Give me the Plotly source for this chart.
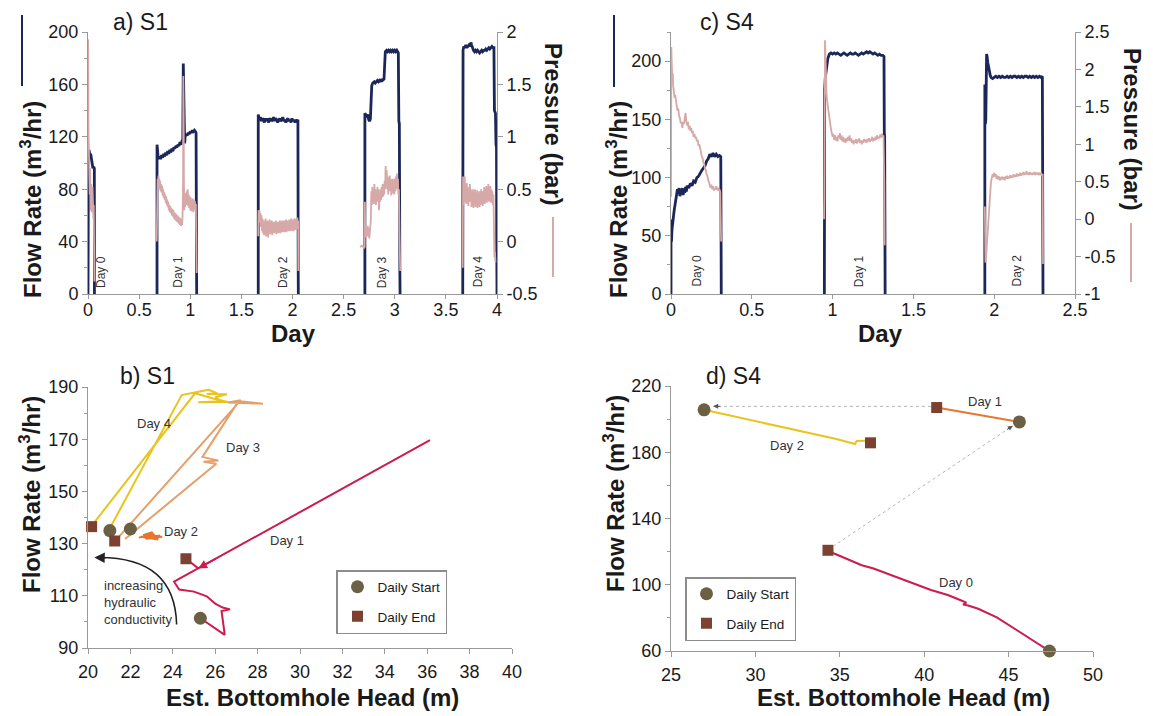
import plotly.graph_objects as go

# ---------------- DATA ----------------
# Panel a) S1 : flow rate (m3/hr) vs day, per pumping day (t, value)
A_FLOW_D0 = [(0.0,0),(0.0,40),(0.004,104),(0.01,110),(0.018,106),(0.026,107),(0.034,103),(0.042,99),(0.048,96),(0.056,97),(0.062,96),(0.063,0)]
A_FLOW_D1 = [(0.675,0),(0.675,114),(0.68,110),(0.685,105),(0.69,103),(0.70,105),(0.71,103),(0.72,106),(0.73,104),(0.74,107),(0.75,105),(0.76,108),(0.77,106),(0.78,109),(0.79,107),(0.80,110),(0.81,108),(0.82,111),(0.83,109),(0.84,112),(0.85,111),(0.86,113),(0.87,112),(0.88,114),(0.89,113),(0.90,116),(0.91,114),(0.92,117),(0.927,118),(0.932,176),(0.937,150),(0.94,117),(0.945,115),(0.95,120),(0.96,122),(0.97,121),(0.98,123),(0.99,122),(1.00,124),(1.01,123),(1.02,125),(1.03,124),(1.04,125),(1.05,124),(1.057,123),(1.062,15),(1.063,0)]
A_FLOW_D2 = [(1.665,0),(1.665,137),(1.668,136),(1.675,133),(1.685,135),(1.695,132),(1.705,134),(1.715,133),(1.725,131),(1.735,134),(1.745,132),(1.755,134),(1.765,131),(1.775,133),(1.785,134),(1.795,132),(1.805,133),(1.815,135),(1.825,132),(1.835,134),(1.845,133),(1.855,131),(1.865,133),(1.875,134),(1.885,132),(1.895,133),(1.905,135),(1.915,132),(1.925,133),(1.935,131),(1.945,133),(1.955,134),(1.965,132),(1.975,133),(1.985,131),(1.995,134),(2.005,132),(2.015,133),(2.025,131),(2.035,133),(2.045,132),(2.053,133),(2.056,15),(2.057,0)]
A_FLOW_D3 = [(2.708,0),(2.708,138),(2.715,137),(2.725,136),(2.735,137),(2.745,133),(2.755,132),(2.762,134),(2.768,150),(2.775,159),(2.785,161),(2.80,162),(2.81,161),(2.82,162),(2.83,163),(2.84,162),(2.85,163),(2.86,162),(2.87,164),(2.88,163),(2.895,164),(2.902,176),(2.908,185),(2.92,186),(2.93,185),(2.94,186),(2.95,185),(2.96,186),(2.97,185),(2.98,186),(2.99,185),(3.00,186),(3.01,185),(3.02,186),(3.03,185),(3.035,184),(3.04,132),(3.045,130),(3.05,18),(3.052,0)]
A_FLOW_D4 = [(3.665,0),(3.665,135),(3.668,186),(3.675,189),(3.685,188),(3.695,190),(3.705,188),(3.715,189),(3.725,190),(3.735,189),(3.745,192),(3.752,190),(3.76,187),(3.77,186),(3.78,185),(3.79,186),(3.80,185),(3.81,186),(3.82,185),(3.83,184),(3.84,185),(3.85,186),(3.86,185),(3.87,186),(3.88,186),(3.89,187),(3.90,186),(3.91,187),(3.92,188),(3.93,187),(3.94,188),(3.95,189),(3.96,188),(3.97,188),(3.975,140),(3.985,138),(3.99,114),(3.995,112),(3.998,30),(4.0,0)]

# Panel a) S1 : pressure (bar)
A_PRES_D0 = [(0.0,0.9),(0.001,1.93),(0.003,1.4),(0.005,1.0),(0.008,0.92),(0.011,0.6),(0.014,0.82),(0.017,0.45),(0.02,0.7),(0.023,0.38),(0.026,0.6),(0.029,0.3),(0.032,0.55),(0.035,0.28),(0.038,0.5),(0.041,0.35),(0.044,0.52),(0.047,0.3),(0.05,0.45),(0.053,0.22),(0.056,0.35),(0.059,0.0),(0.062,-0.3),(0.063,-0.38)]
A_PRES_D1 = [(0.672,0.0),(0.675,0.55),(0.678,0.48),(0.681,0.6),(0.685,0.5),(0.689,0.63),(0.693,0.52),(0.697,0.6),(0.70,0.5),(0.705,0.58),(0.71,0.48),(0.715,0.55),(0.72,0.47),(0.725,0.53),(0.73,0.44),(0.735,0.5),(0.74,0.42),(0.745,0.47),(0.75,0.4),(0.755,0.45),(0.76,0.37),(0.765,0.43),(0.77,0.35),(0.775,0.4),(0.78,0.33),(0.785,0.38),(0.79,0.3),(0.795,0.35),(0.80,0.28),(0.805,0.34),(0.81,0.27),(0.815,0.32),(0.82,0.25),(0.825,0.31),(0.83,0.24),(0.835,0.3),(0.84,0.22),(0.845,0.28),(0.85,0.21),(0.855,0.27),(0.86,0.2),(0.865,0.26),(0.87,0.19),(0.875,0.25),(0.88,0.18),(0.885,0.24),(0.89,0.17),(0.895,0.23),(0.90,0.16),(0.905,0.22),(0.91,0.15),(0.915,0.21),(0.92,0.16),(0.925,0.25),(0.93,0.6),(0.932,1.58),(0.935,1.3),(0.938,0.6),(0.941,0.3),(0.945,0.4),(0.95,0.33),(0.955,0.46),(0.96,0.35),(0.965,0.48),(0.97,0.36),(0.975,0.5),(0.98,0.34),(0.985,0.45),(0.99,0.32),(0.995,0.43),(1.0,0.3),(1.005,0.42),(1.01,0.29),(1.015,0.4),(1.02,0.3),(1.025,0.41),(1.03,0.28),(1.035,0.4),(1.04,0.3),(1.045,0.39),(1.05,0.31),(1.055,0.36),(1.058,0.1),(1.061,-0.25),(1.063,-0.3)]
A_PRES_D2 = [(1.665,0.05),(1.667,0.3),(1.672,0.22),(1.677,0.3),(1.682,0.18),(1.687,0.27),(1.692,0.14),(1.697,0.25),(1.702,0.1),(1.707,0.22),(1.712,0.08),(1.717,0.2),(1.722,0.06),(1.727,0.18),(1.732,0.1),(1.737,0.22),(1.742,0.05),(1.747,0.19),(1.752,0.08),(1.757,0.2),(1.762,0.04),(1.767,0.17),(1.772,0.09),(1.777,0.21),(1.782,0.07),(1.787,0.18),(1.792,0.1),(1.797,0.2),(1.802,0.06),(1.807,0.18),(1.812,0.09),(1.817,0.19),(1.822,0.08),(1.827,0.17),(1.832,0.1),(1.837,0.2),(1.842,0.07),(1.847,0.18),(1.852,0.1),(1.857,0.19),(1.862,0.08),(1.867,0.18),(1.872,0.11),(1.877,0.2),(1.882,0.08),(1.887,0.19),(1.892,0.1),(1.897,0.2),(1.902,0.09),(1.907,0.18),(1.912,0.1),(1.917,0.2),(1.922,0.09),(1.927,0.19),(1.932,0.1),(1.937,0.21),(1.942,0.09),(1.947,0.2),(1.952,0.11),(1.957,0.19),(1.962,0.1),(1.967,0.21),(1.972,0.1),(1.977,0.2),(1.982,0.11),(1.987,0.22),(1.992,0.1),(1.997,0.21),(2.002,0.11),(2.007,0.2),(2.012,0.1),(2.017,0.22),(2.022,0.12),(2.027,0.21),(2.032,0.11),(2.037,0.22),(2.042,0.12),(2.047,0.23),(2.052,0.15),(2.055,0.2),(2.057,-0.28)]
A_PRES_D3 = [(2.66,-0.05),(2.68,-0.04),(2.70,-0.06),(2.706,-0.05),(2.708,0.38),(2.711,0.05),(2.716,0.14),(2.721,0.04),(2.726,0.12),(2.731,0.06),(2.736,0.15),(2.741,0.05),(2.746,0.13),(2.751,0.03),(2.756,0.12),(2.761,0.08),(2.766,0.2),(2.771,0.48),(2.776,0.35),(2.781,0.52),(2.786,0.38),(2.791,0.5),(2.796,0.36),(2.801,0.55),(2.806,0.4),(2.811,0.5),(2.816,0.35),(2.821,0.48),(2.826,0.38),(2.831,0.52),(2.836,0.4),(2.841,0.5),(2.846,0.3),(2.851,0.45),(2.856,0.38),(2.861,0.5),(2.866,0.4),(2.871,0.52),(2.876,0.42),(2.881,0.55),(2.886,0.43),(2.891,0.52),(2.896,0.45),(2.901,0.58),(2.906,0.5),(2.911,0.72),(2.916,0.55),(2.921,0.68),(2.926,0.5),(2.931,0.62),(2.936,0.45),(2.941,0.6),(2.946,0.48),(2.951,0.63),(2.956,0.5),(2.961,0.6),(2.966,0.44),(2.971,0.58),(2.976,0.47),(2.981,0.6),(2.986,0.46),(2.991,0.57),(2.996,0.45),(3.001,0.6),(3.006,0.48),(3.011,0.62),(3.016,0.5),(3.021,0.65),(3.026,0.5),(3.031,0.6),(3.036,0.45),(3.041,0.5),(3.046,0.1),(3.05,-0.2),(3.053,-0.28)]
A_PRES_D4 = [(3.665,-0.25),(3.666,0.2),(3.668,0.62),(3.672,0.35),(3.676,0.6),(3.68,0.4),(3.685,0.62),(3.69,0.38),(3.695,0.55),(3.70,0.36),(3.705,0.56),(3.71,0.4),(3.715,0.52),(3.72,0.34),(3.725,0.5),(3.73,0.38),(3.735,0.55),(3.74,0.4),(3.745,0.5),(3.75,0.33),(3.755,0.48),(3.76,0.35),(3.765,0.5),(3.77,0.32),(3.775,0.47),(3.78,0.36),(3.785,0.5),(3.79,0.33),(3.795,0.46),(3.80,0.35),(3.805,0.49),(3.81,0.32),(3.815,0.45),(3.82,0.34),(3.825,0.48),(3.83,0.33),(3.835,0.46),(3.84,0.35),(3.845,0.5),(3.85,0.36),(3.855,0.48),(3.86,0.34),(3.865,0.47),(3.87,0.38),(3.875,0.52),(3.88,0.36),(3.885,0.5),(3.89,0.38),(3.895,0.53),(3.90,0.37),(3.905,0.5),(3.91,0.4),(3.915,0.55),(3.92,0.38),(3.925,0.5),(3.93,0.4),(3.935,0.53),(3.94,0.37),(3.945,0.5),(3.95,0.38),(3.955,0.48),(3.96,0.35),(3.965,0.45),(3.97,0.2),(3.975,-0.15),(3.98,-0.1),(3.985,-0.2)]

# Panel c) S4 : flow rate
C_FLOW_D0 = [(0.0,0),(0.0,64),(0.003,45),(0.006,55),(0.01,62),(0.014,66),(0.018,70),(0.022,74),(0.026,78),(0.03,83),(0.035,87),(0.04,90),(0.045,86),(0.05,91),(0.055,84),(0.06,89),(0.065,86),(0.07,91),(0.075,85),(0.08,90),(0.085,87),(0.09,92),(0.095,88),(0.10,93),(0.11,91),(0.12,95),(0.13,93),(0.14,97),(0.15,96),(0.16,100),(0.17,101),(0.18,104),(0.19,106),(0.20,108),(0.21,110),(0.22,114),(0.23,116),(0.24,120),(0.25,118),(0.26,121),(0.27,118),(0.28,120),(0.29,118),(0.30,119),(0.308,118),(0.31,42),(0.311,0)]
C_FLOW_D1 = [(0.949,0),(0.949,58),(0.951,176),(0.955,186),(0.96,193),(0.965,198),(0.97,202),(0.975,204),(0.98,206),(0.99,207),(1.0,206),(1.01,207),(1.02,206),(1.03,207),(1.04,206),(1.05,205),(1.06,206),(1.07,207),(1.08,206),(1.09,205),(1.10,206),(1.11,207),(1.12,206),(1.13,206),(1.14,207),(1.15,206),(1.16,205),(1.17,206),(1.18,207),(1.19,206),(1.20,207),(1.21,208),(1.22,207),(1.23,208),(1.24,207),(1.25,206),(1.26,207),(1.27,206),(1.28,205),(1.29,206),(1.30,205),(1.31,205),(1.318,204),(1.32,138),(1.322,136),(1.324,52),(1.325,0)]
C_FLOW_D2 = [(1.942,0),(1.942,180),(1.945,146),(1.948,150),(1.95,162),(1.953,206),(1.956,204),(1.96,199),(1.965,194),(1.97,190),(1.975,188),(1.98,186),(1.99,185),(2.0,186),(2.01,187),(2.02,186),(2.03,187),(2.04,186),(2.05,187),(2.06,186),(2.07,186),(2.08,187),(2.09,186),(2.10,187),(2.11,186),(2.12,187),(2.13,187),(2.14,186),(2.15,187),(2.16,186),(2.17,187),(2.18,186),(2.19,187),(2.20,187),(2.21,186),(2.22,187),(2.23,186),(2.24,187),(2.25,186),(2.26,187),(2.27,186),(2.28,187),(2.29,186),(2.298,187),(2.301,25),(2.302,0)]

# Panel c) S4 : pressure
C_PRES_D0 = [(0.0,0.3),(0.002,2.3),(0.005,2.05),(0.008,1.9),(0.011,1.95),(0.014,1.78),(0.018,1.72),(0.022,1.62),(0.026,1.66),(0.03,1.55),(0.035,1.52),(0.04,1.45),(0.045,1.48),(0.05,1.38),(0.055,1.35),(0.06,1.28),(0.065,1.3),(0.07,1.22),(0.075,1.3),(0.08,1.27),(0.085,1.38),(0.09,1.42),(0.095,1.3),(0.10,1.25),(0.105,1.3),(0.11,1.2),(0.115,1.25),(0.12,1.18),(0.125,1.22),(0.13,1.15),(0.135,1.18),(0.14,1.1),(0.145,1.14),(0.15,1.08),(0.155,1.1),(0.16,1.04),(0.165,1.06),(0.17,0.98),(0.175,1.0),(0.18,0.92),(0.185,0.9),(0.19,0.84),(0.195,0.82),(0.20,0.76),(0.205,0.74),(0.21,0.68),(0.215,0.66),(0.22,0.6),(0.225,0.58),(0.23,0.52),(0.235,0.5),(0.24,0.45),(0.245,0.42),(0.25,0.46),(0.255,0.4),(0.26,0.44),(0.265,0.38),(0.27,0.42),(0.275,0.4),(0.28,0.44),(0.285,0.39),(0.29,0.42),(0.295,0.38),(0.30,0.4),(0.305,0.36),(0.31,-0.3)]
C_PRES_D1 = [(0.947,0.0),(0.949,0.3),(0.953,2.39),(0.956,2.0),(0.959,1.85),(0.962,1.7),(0.966,1.58),(0.97,1.5),(0.975,1.42),(0.98,1.35),(0.985,1.28),(0.99,1.2),(0.995,1.15),(1.0,1.1),(1.005,1.14),(1.01,1.06),(1.015,1.12),(1.02,1.05),(1.025,1.1),(1.03,1.04),(1.035,1.12),(1.04,1.08),(1.045,1.15),(1.05,1.06),(1.055,1.12),(1.06,1.04),(1.065,1.1),(1.07,1.03),(1.075,1.08),(1.08,1.02),(1.085,1.08),(1.09,1.04),(1.095,1.1),(1.10,1.05),(1.105,1.12),(1.11,1.04),(1.115,1.08),(1.12,1.02),(1.125,1.06),(1.13,1.0),(1.135,1.05),(1.14,1.02),(1.145,1.07),(1.15,1.01),(1.155,1.06),(1.16,1.03),(1.165,1.08),(1.17,1.02),(1.175,1.05),(1.18,1.0),(1.185,1.05),(1.19,1.02),(1.195,1.07),(1.20,1.03),(1.205,1.06),(1.21,1.02),(1.215,1.07),(1.22,1.04),(1.225,1.08),(1.23,1.03),(1.235,1.07),(1.24,1.05),(1.245,1.1),(1.25,1.04),(1.255,1.08),(1.26,1.05),(1.265,1.1),(1.27,1.06),(1.275,1.12),(1.28,1.07),(1.285,1.1),(1.29,1.08),(1.295,1.13),(1.30,1.09),(1.305,1.14),(1.31,1.1),(1.315,1.12),(1.32,0.5),(1.322,-0.35)]
C_PRES_D2 = [(1.942,0.17),(1.944,-0.45),(1.946,-0.58),(1.95,-0.5),(1.955,-0.32),(1.96,-0.08),(1.965,0.12),(1.97,0.28),(1.975,0.4),(1.98,0.5),(1.985,0.55),(1.99,0.6),(1.995,0.56),(2.0,0.62),(2.005,0.57),(2.01,0.6),(2.015,0.54),(2.02,0.58),(2.025,0.53),(2.03,0.57),(2.035,0.52),(2.04,0.56),(2.045,0.53),(2.05,0.57),(2.055,0.53),(2.06,0.56),(2.065,0.52),(2.07,0.57),(2.075,0.54),(2.08,0.58),(2.085,0.54),(2.09,0.57),(2.095,0.55),(2.10,0.59),(2.105,0.55),(2.11,0.58),(2.115,0.56),(2.12,0.6),(2.125,0.56),(2.13,0.59),(2.135,0.57),(2.14,0.61),(2.145,0.57),(2.15,0.6),(2.155,0.58),(2.16,0.62),(2.165,0.58),(2.17,0.61),(2.175,0.59),(2.18,0.63),(2.185,0.59),(2.19,0.62),(2.195,0.6),(2.20,0.64),(2.205,0.6),(2.21,0.62),(2.215,0.59),(2.22,0.63),(2.225,0.6),(2.23,0.62),(2.235,0.59),(2.24,0.62),(2.245,0.6),(2.25,0.63),(2.255,0.59),(2.26,0.62),(2.265,0.6),(2.27,0.62),(2.275,0.59),(2.28,0.61),(2.285,0.6),(2.29,0.62),(2.295,0.59),(2.30,0.6),(2.302,-0.6)]

# Panel b) S1 : flow rate vs est. bottomhole head (head m, flow m3/hr)
B_DAY1 = [(25.3,101.4),(26.45,95.0),(26.3,104.2),(26.7,104.8),(26.35,105.5),(26.0,107.0),(25.6,109.8),(25.0,111.6),(24.3,112.4),(24.06,115.4),(36.13,169.6),(25.2,120.5),(24.62,124.2)]
B_DAY2 = [(22.4,132.3),(23.1,133.8),(22.7,132.0),(23.5,132.6),(22.6,133.2),(23.0,134.3),(23.3,131.6),(22.5,132.6),(23.4,133.0),(22.8,131.8),(23.2,132.9)]
B_DAY3 = [(21.75,131.8),(26.05,160.6),(25.45,161.4),(26.15,161.8),(25.4,163.2),(27.1,184.6),(28.25,183.6),(26.6,184.1),(27.2,184.9),(21.35,131.6)]
B_DAY4 = [(20.96,134.8),(24.42,186.9),(25.2,188.2),(25.7,188.9),(26.1,187.5),(25.6,187.3),(26.55,187.2),(26.0,186.1),(26.3,184.5),(25.2,184.2),(26.6,184.3),(25.9,185.6),(25.05,187.6),(20.17,136.8)]
B_START = [(25.3,101.4),(21.03,135.0),(22.0,135.6)]
B_END = [(24.62,124.2),(21.26,131.0),(20.17,136.5)]

# Panel d) S4
D_DAY0 = [(47.42,60.0),(46.4,66.5),(45.4,73.3),(44.3,80.3),(43.2,85.5),(42.6,87.5),(42.3,88.0),(42.5,89.2),(42.2,90.5),(41.4,93.8),(40.4,96.8),(39.2,101.3),(38.0,106.0),(37.0,109.8),(36.3,111.8),(35.6,114.8),(35.1,116.6),(35.3,116.2),(34.7,118.7),(34.3,120.8)]
D_DAY1 = [(45.64,198.3),(44.2,200.8),(42.6,203.6),(41.5,205.5),(41.0,206.5),(41.4,206.0),(40.74,207.0)]
D_DAY2 = [(26.96,205.6),(30.5,197.8),(33.8,190.3),(34.8,188.0),(35.9,185.0),(36.0,186.8),(36.6,187.0)]
D_START = [(26.96,205.6),(45.64,198.3),(47.42,60.0)]
D_END = [(34.3,120.8),(40.74,207.0),(36.82,185.7)]
D_LINKS = [((34.6,123.2),(45.25,196.0)), ((40.4,207.7),(27.5,207.7))]

# Labels
A_DAY_LABELS = [("Day 0",0.12),("Day 1",0.88),("Day 2",1.9),("Day 3",2.87),("Day 4",3.81)]
C_DAY_LABELS = [("Day 0",0.16),("Day 1",1.16),("Day 2",2.14)]
B_LABELS = [("Day 4",23.1,176),("Day 3",27.3,167),("Day 2",24.4,134.5),("Day 1",29.4,131)]
D_LABELS = [("Day 1",43.6,210.8),("Day 2",31.9,183.8),("Day 0",41.9,101.5)]
A_PRES_TICKS = [-0.5,0,0.5,1,1.5,2]
A_PRES_TEXT = ["-0.5","0","0.5","1","1.5","2"]
C_PRES_TICKS = [-1,-0.5,0,0.5,1,1.5,2,2.5]
C_PRES_TEXT = ["-1","-0.5","0","0.5","1","1.5","2","2.5"]

# ---------------- STYLE ----------------
NAVY = "#1c2759"
PINK = "#d6a8a7"
CRIMSON = "#cc1c4f"
ORANGE = "#e8752d"
LIGHTOR = "#e3a06a"
YELLOW = "#e9c420"
START_C = "#6b5f44"
END_C = "#7d4131"
FONT = "Liberation Sans"
TXT = "#1a1a1a"
AX = "#9a9a9a"
OFF = 8                      # page body margin of the html page
W, H = 1153 - OFF, 716 - OFF

def px(x): return (x - OFF) / W
def py(y): return 1 - (y - OFF) / H

def join(segs):
    X, Y = [], []
    for s in segs:
        X += [p[0] for p in s] + [None]
        Y += [p[1] for p in s] + [None]
    return X, Y

fig = go.Figure()

def line(segs, xa, ya, color, width):
    X, Y = join(segs)
    fig.add_trace(go.Scatter(x=X, y=Y, xaxis=xa, yaxis=ya, mode="lines",
                             line=dict(color=color, width=width), showlegend=False,
                             hoverinfo="skip"))

# top panels
line([A_FLOW_D0, A_FLOW_D1, A_FLOW_D2, A_FLOW_D3, A_FLOW_D4], "x", "y", NAVY, 2.8)
line([A_PRES_D0, A_PRES_D1, A_PRES_D2, A_PRES_D3, A_PRES_D4], "x", "y2", PINK, 1.8)
line([C_FLOW_D0, C_FLOW_D1, C_FLOW_D2], "x2", "y3", NAVY, 2.8)
line([C_PRES_D0, C_PRES_D1, C_PRES_D2], "x2", "y4", PINK, 1.8)

# panel b
line([B_DAY1], "x3", "y5", CRIMSON, 2.0)
line([B_DAY2], "x3", "y5", ORANGE, 2.0)
line([B_DAY3], "x3", "y5", LIGHTOR, 2.0)
line([B_DAY4], "x3", "y5", YELLOW, 2.0)
# panel d
line([D_DAY0], "x4", "y6", CRIMSON, 2.0)
line([D_DAY1], "x4", "y6", ORANGE, 2.0)
line([D_DAY2], "x4", "y6", YELLOW, 2.0)

def markers(pts, xa, ya, sym, color, size, name, legend, group):
    fig.add_trace(go.Scatter(x=[p[0] for p in pts], y=[p[1] for p in pts], xaxis=xa, yaxis=ya,
                             mode="markers", name=name, legend=legend, legendgroup=group,
                             marker=dict(symbol=sym, color=color, size=size),
                             cliponaxis=False, hoverinfo="skip"))

markers(B_START, "x3", "y5", "circle", START_C, 13, "Daily Start", "legend", "s")
markers(B_END, "x3", "y5", "square", END_C, 11, "Daily End", "legend", "e")
markers(D_START, "x4", "y6", "circle", START_C, 13, "Daily Start", "legend2", "s")
markers(D_END, "x4", "y6", "square", END_C, 11, "Daily End", "legend2", "e")

tickfont = dict(family=FONT, size=18, color=TXT)
def axis(**kw):
    d = dict(showgrid=False, zeroline=False, showline=True, linecolor=AX, linewidth=1,
             ticks="outside", ticklen=5, tickcolor=AX, tickfont=tickfont, fixedrange=True,
             automargin=False)
    d.update(kw)
    return d

minor = lambda dt: dict(ticks="outside", ticklen=3, tickcolor=AX, dtick=dt, showgrid=False)

ya_dom = [py(294), py(32)]
layout = dict(
    width=W, height=H, margin=dict(l=0, r=0, t=0, b=0, pad=0, autoexpand=False),
    paper_bgcolor="white", plot_bgcolor="white",
    font=dict(family=FONT, color=TXT),
    xaxis=axis(domain=[px(88), px(497)], anchor="y", range=[0, 4], tick0=0, dtick=0.5,
               ticklen=4, ticklabelstandoff=-5),
    yaxis=axis(domain=ya_dom, anchor="x", range=[0, 200], tick0=0, dtick=40, minor=minor(20)),
    yaxis2=axis(overlaying="y", side="right", anchor="x", range=[-0.5, 2],
                tickvals=A_PRES_TICKS, ticktext=A_PRES_TEXT),
    xaxis2=axis(domain=[px(671), px(1075)], anchor="y3", range=[0, 2.5], tick0=0, dtick=0.5,
                ticklen=4, ticklabelstandoff=-5),
    yaxis3=axis(domain=ya_dom, anchor="x2", range=[0, 225], tick0=0, dtick=50, minor=minor(25)),
    yaxis4=axis(overlaying="y3", side="right", anchor="x2", range=[-1, 2.5],
                tickvals=C_PRES_TICKS, ticktext=C_PRES_TEXT),
    xaxis3=axis(domain=[px(88), px(512)], anchor="y5", range=[20, 40], tick0=20, dtick=2,
                ticklabelstandoff=2),
    yaxis5=axis(domain=[py(648), py(387)], anchor="x3", range=[90, 190], tick0=90, dtick=20, minor=minor(10)),
    xaxis4=axis(domain=[px(671), px(1093)], anchor="y6", range=[25, 50], tick0=25, dtick=5,
                ticklabelstandoff=2),
    yaxis6=axis(domain=[py(651), py(386)], anchor="x4", range=[60, 220], tick0=60, dtick=40, minor=minor(20)),
    legend=dict(x=px(336), y=py(570), xanchor="left", yanchor="top", bgcolor="white",
                bordercolor="#8c8c8c", borderwidth=1.5, font=dict(family=FONT, size=13.5, color=TXT),
                tracegroupgap=9, itemclick=False),
    legend2=dict(x=px(685), y=py(577), xanchor="left", yanchor="top", bgcolor="white",
                 bordercolor="#8c8c8c", borderwidth=1.5, font=dict(family=FONT, size=13.5, color=TXT),
                 tracegroupgap=9, itemclick=False),
)
fig.update_layout(**layout)

ann = []
shapes = []
def ptext(text, x, y, size, bold=False, angle=0):
    ann.append(dict(text=("<b>%s</b>" % text) if bold else text, x=px(x), y=py(y), xref="paper",
                    yref="paper", showarrow=False, textangle=angle, xanchor="center", yanchor="middle",
                    font=dict(family=FONT, size=size, color=TXT)))

FR = "Flow Rate (m<sup>3</sup>/hr)"
ptext(FR, 31, 200, 24, True, -90)
ptext(FR, 617, 200, 24, True, -90)
ptext(FR, 30, 495, 24, True, -90)
ptext(FR, 614, 494, 24, True, -90)
ptext("Pressure (bar)", 553, 124, 24, True, 90)
ptext("Pressure (bar)", 1133, 129, 24, True, 90)
ptext("Day", 293, 333, 24, True)
ptext("Day", 880, 333, 24, True)
ptext("Est. Bottomhole Head (m)", 312, 697, 24, True)
ptext("Est. Bottomhole Head (m)", 903, 697, 24, True)
ptext("a) S1", 140, 22, 23)
ptext("c) S4", 727, 22, 23)
ptext("b) S1", 147, 376, 23)
ptext("d) S4", 733, 376, 23)

for t, x in A_DAY_LABELS:
    ann.append(dict(text=t, x=x, y=17, xref="x", yref="y", showarrow=False, textangle=-90,
                    font=dict(family=FONT, size=12, color="#333")))
for t, x in C_DAY_LABELS:
    ann.append(dict(text=t, x=x, y=20, xref="x2", yref="y3", showarrow=False, textangle=-90,
                    font=dict(family=FONT, size=12, color="#333")))
for t, x, y in B_LABELS:
    ann.append(dict(text=t, x=x, y=y, xref="x3", yref="y5", showarrow=False,
                    font=dict(family=FONT, size=13, color="#333")))
for t, x, y in D_LABELS:
    ann.append(dict(text=t, x=x, y=y, xref="x4", yref="y6", showarrow=False,
                    font=dict(family=FONT, size=13, color="#333")))

# increasing hydraulic conductivity note + curved arrow (panel b)
ann.append(dict(text="increasing<br>hydraulic<br>conductivity", x=20.68, y=107.5, xref="x3", yref="y5",
                showarrow=False, xanchor="left", align="left",
                font=dict(family=FONT, size=13, color="#333")))
shapes.append(dict(type="path", xref="x3", yref="y5", path="M 24.18,99 Q 24.1,124.7 20.55,124.7",
                   line=dict(color="#222", width=1.6)))
ann.append(dict(text="", x=20.3, y=124.7, ax=20.9, ay=124.55, xref="x3", yref="y5", axref="x3", ayref="y5",
                showarrow=True, arrowhead=2, arrowsize=1.3, arrowwidth=1.6, arrowcolor="#222"))
# arrowhead on Day 1 return path
ann.append(dict(text="", x=25.2, y=120.5, ax=26.1, ay=124.5, xref="x3", yref="y5", axref="x3", ayref="y5",
                showarrow=True, arrowhead=2, arrowsize=1.1, arrowwidth=1.6, arrowcolor=CRIMSON))

# dotted links between days (panel d)
for (x0, y0), (x1, y1) in D_LINKS:
    shapes.append(dict(type="line", xref="x4", yref="y6", x0=x0, y0=y0, x1=x1, y1=y1,
                       line=dict(color="#b5b5b5", width=1, dash="dot")))
    ann.append(dict(text="", x=x1, y=y1, ax=x1 - (x1 - x0) * 0.04, ay=y1 - (y1 - y0) * 0.04,
                    xref="x4", yref="y6", axref="x4", ayref="y6", showarrow=True, arrowhead=2,
                    arrowsize=1, arrowwidth=1, arrowcolor="#555"))

# series indicator lines next to axis titles (top panels)
def vseg(x, y0, y1, color):
    shapes.append(dict(type="line", xref="paper", yref="paper", x0=px(x), x1=px(x), y0=py(y0), y1=py(y1),
                       line=dict(color=color, width=2)))
vseg(22, 15, 86, NAVY)
vseg(553, 217, 277, PINK)
vseg(614, 15, 87, NAVY)
vseg(1131, 223, 282, PINK)

fig.update_layout(annotations=ann, shapes=shapes)
fig.write_html("out.html")
